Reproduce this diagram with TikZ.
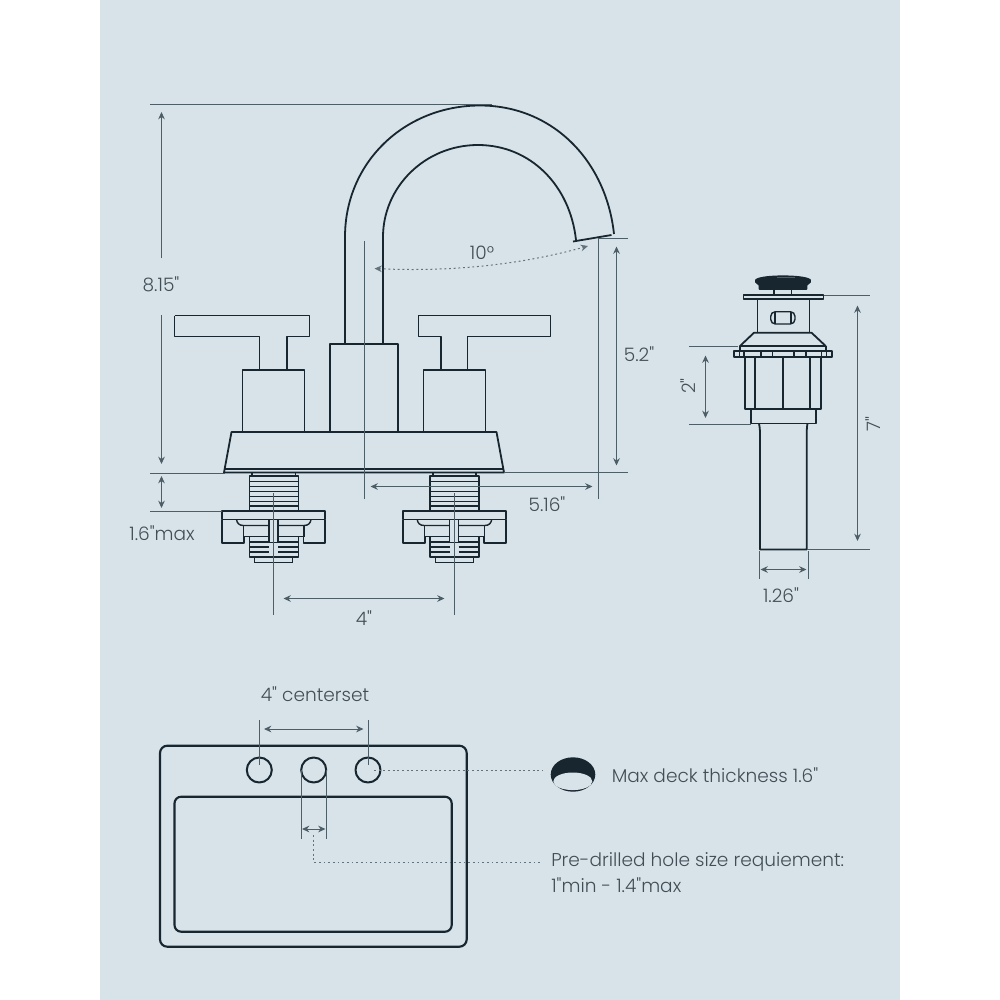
\documentclass[tikz,border=0pt]{standalone}
\usepackage{fontspec}
\setmainfont{Poppins}[UprightFont=* Light,Ligatures=TeXOff]
\usetikzlibrary{arrows.meta}
\definecolor{panelbg}{RGB}{216,227,233}
\definecolor{partink}{RGB}{24,38,47}
\definecolor{dimink}{RGB}{78,94,103}
\definecolor{dotink}{RGB}{100,115,123}
\definecolor{labelink}{RGB}{66,78,86}
\tikzset{
  part/.style={color=partink,line width=1.35pt,line join=round},
  thread/.style={color=partink,line width=1.05pt},
  threadbar/.style={color=partink,line width=1.3pt},
  dimline/.style={color=dimink,line width=0.75pt},
  dimarrow/.style={dimline,{Stealth[length=5.5pt,width=5pt]}-{Stealth[length=5.5pt,width=5pt]}},
  dimtip/.style={dimline,-{Stealth[length=5.5pt,width=5pt]}},
  dotline/.style={color=dotink,line width=0.75pt,dash pattern={on 1.4pt off 2.1pt}},
  dimtext/.style={text=labelink,font=\fontsize{13.9}{16}\selectfont,inner sep=0pt},
}
\begin{document}
\begin{tikzpicture}[x=0.75pt,y=0.75pt,yscale=-1,xscale=1]
\useasboundingbox (0,0) rectangle (1000,1000);
\fill [white] (0,0) rectangle (1000,1000);
\fill [panelbg] (100,0) rectangle (900,1000);

%Spout
\draw [part] (345,344) -- (345,237) .. controls (345,162) and (405,105.5) .. (480,105.5) .. controls (552,105.5) and (606,160) .. (614,234);
\draw [part] (383,344) -- (383,237) .. controls (383,187) and (425,145) .. (478,145) .. controls (530,145) and (570,185) .. (576,240);
\draw [part] (573,241.5) -- (611.5,235);

%Handles and bodies
\draw [part] (174.5,315.5) -- (309.5,315.5) -- (309.5,336.5) -- (287,336.5) -- (287,370);
\draw [part] (174.5,315.5) -- (174.5,336.5) -- (259.5,336.5) -- (259.5,370);
\draw [part] (242.5,432) -- (242.5,370) -- (304.5,370) -- (304.5,432);
\draw [part] (441,370) -- (441,336.5) -- (418.5,336.5) -- (418.5,315.5) -- (550.5,315.5) -- (550.5,336.5) -- (467.5,336.5) -- (467.5,370);
\draw [part] (423.5,432) -- (423.5,370) -- (485.5,370) -- (485.5,432);
\draw [part] (330,432) -- (330,344) -- (398,344) -- (398,432);

%Deck plate
\draw [part] (224,472.5) -- (231.5,432) -- (496.5,432) -- (504,472.5) -- cycle;
\draw [part] (224.5,469) -- (503.5,469);

%Mounts under the deck
\foreach \dx in {0,180.7} {
\begin{scope}[xshift=\dx*0.75pt]
\draw [part] (252,473) -- (252,476) (295.5,473) -- (295.5,476);
\draw [part] (249.5,511) -- (249.5,476) -- (298.5,476) -- (298.5,511);
\foreach \yy in {481.5,486.5,491.5,496.5,501.5,506} {
\draw [threadbar] (249.5,\yy) -- (298.5,\yy);
}
\draw [part] (222,511) rectangle (325,519.5);
\draw [part] (222,519.5) -- (222,543) -- (244,543) -- (244,536.5) -- (249.5,536.5);
\draw [part] (325,519.5) -- (325,543) -- (303.5,543) -- (303.5,536.5) -- (298.5,536.5);
\draw [thread] (236.5,519.5) .. controls (237,523) and (239,525.5) .. (243.5,525.5) -- (269,525.5);
\draw [thread] (311,519.5) .. controls (310.5,523) and (308.5,525.5) .. (304,525.5) -- (278,525.5);
\draw [thread] (243.5,525.5) -- (243.5,536.5) -- (269,536.5);
\draw [thread] (304,525.5) -- (304,536.5) -- (278,536.5);
\draw [thread] (269,519.5) -- (269,542.5) -- (278,542.5) -- (278,519.5);
\draw [part] (249.5,536.5) -- (249.5,557) -- (298.5,557) -- (298.5,536.5);
\foreach \yy in {541.7,546.7,551.7} {
\draw [threadbar] (249.5,\yy) -- (269,\yy) (278,\yy) -- (298.5,\yy);
}
\draw [thread] (254.5,557) -- (254.5,562.7) -- (292.5,562.7) -- (292.5,557);
\end{scope}
}

%Dimension lines of the faucet
\draw [dimline] (150,104.5) -- (492,104.5);
\draw [dimline] (150,473) -- (225,473);
\draw [dimline] (504,472.5) -- (628,472.5);
\draw [dimline] (150,511) -- (222,511);
\draw [dimline] (598,238) -- (628,238);
\draw [dimline] (598,238) -- (598,499);
\draw [dimline] (364.5,241) -- (364.5,499);
\draw [dimline] (273.3,493) -- (273.3,615);
\draw [dimline] (454,493) -- (454,615);
\draw [dimtip] (161.5,258) -- (161.5,112);
\draw [dimtip] (161.5,315) -- (161.5,464);
\draw [dimarrow] (161.5,476) -- (161.5,508);
\draw [dimarrow] (616.5,246.5) -- (616.5,465.5);
\draw [dimarrow] (370.5,486.5) -- (592.5,486.5);
\draw [dimarrow] (283.5,598.5) -- (444.5,598.5);
\draw [dotline,{Stealth[length=5.5pt,width=5pt]}-{Stealth[length=5.5pt,width=5pt]}] (374.5,268.5) .. controls (450,272) and (520,265) .. (588,246);

%Drain: cap and neck
\draw [part,fill=partink] (756,280) .. controls (759,277.5) and (771,276.3) .. (783,276.3) .. controls (795,276.3) and (807,277.5) .. (810,280) -- (810,282) -- (806.5,285) -- (806.5,289) -- (759.5,289) -- (759.5,285) -- (756,282) -- cycle;
\draw [color=dimink,line width=0.8pt] (777,277.5) -- (795,277.5);
\draw [thread] (774,289) -- (774,295) (791.5,289) -- (791.5,295);
\draw [part] (743.5,295) rectangle (823.5,298.7);
\draw [part] (757.5,298.7) -- (757.5,332.7) (809.5,298.7) -- (809.5,332.7);
\draw [thread,rounded corners=3.5pt] (770.7,311.7) rectangle (795,324);
\draw [thread] (775,312) -- (775,323.7) (791,312) -- (791,323.7);

%Drain: shoulder, ring and body
\draw [part] (740,346) -- (754,332.7) -- (811.5,332.7) -- (825.7,346) -- cycle;
\draw [part] (740,346) -- (740,350.7) (825.7,346) -- (825.7,350.7);
\draw [part] (734,350.7) rectangle (831.7,357);
\foreach \xx in {739.3,744,761,772.3,794,806,821.7,826.7} {
\draw [thread] (\xx,350.7) -- (\xx,357);
}
\draw [part] (745,357) rectangle (820.7,408.7);
\foreach \xx in {755.3,783,810.3} {
\draw [part] (\xx,357) -- (\xx,408.7);
}
\draw [part] (750.7,408.7) rectangle (815.7,423.5);
\draw [part] (759,423.5) .. controls (760,428) and (760,432) .. (760,436) -- (760,549.5) -- (806.7,549.5) -- (806.7,436) .. controls (806.7,432) and (806.7,428) .. (807.5,423.5);

%Dimension lines of the drain
\draw [dimline] (823.5,295) -- (870,295);
\draw [dimline] (689,346.5) -- (738,346.5);
\draw [dimline] (689,424.5) -- (750.5,424.5);
\draw [dimline] (807,549.5) -- (870,549.5);
\draw [dimline] (759,551) -- (759,579);
\draw [dimline] (808.3,551) -- (808.3,579);
\draw [dimarrow] (705.5,355.5) -- (705.5,418);
\draw [dimarrow] (857.5,305.5) -- (857.5,541);
\draw [dimarrow] (760.5,569.5) -- (806.5,569.5);

%Basin
\draw [part,line width=1.6pt,rounded corners=5.5pt] (160,745.7) rectangle (466.7,946.7);
\draw [part,line width=1.6pt,rounded corners=5pt] (174.5,796.7) rectangle (451.7,931.7);
\foreach \xx in {259.3,313.7,368} {
\draw [part,line width=1.5pt] (\xx,770) circle [radius=12.5];
}
\draw [dimline] (259.3,720) -- (259.3,765);
\draw [dimline] (368,720) -- (368,765);
\draw [dimarrow] (264,729) -- (363.5,729);
\draw [dimline] (301,770) -- (301,838.7);
\draw [dimline] (326.5,770) -- (326.5,838.7);
\draw [dimarrow] (302,829) -- (325.5,829);
\draw [dotline] (374,770) -- (543,770);
\draw [dotline] (313.7,835) -- (313.7,862.5) -- (541,862.5);

%Deck thickness mark
\fill [partink] (573,774.5) ellipse [x radius=22.3,y radius=17.2];
\fill [panelbg] (572.8,781.3) ellipse [x radius=19.5,y radius=8.8];

% Text Node
\node [dimtext] (tallLabel) at (161,284) {8.15"};
\node [dimtext] (angleLabel) at (482,253) {10°};
\node [dimtext] (spoutLabel) at (639,354) {5.2"};
\node [dimtext] (reachLabel) at (547,504) {5.16"};
\node [dimtext] (deckLabel) at (162,533) {1.6"max};
\node [dimtext] (spreadLabel) at (364,618) {4"};
\node [dimtext,rotate=90] (drainLabel) at (688,386) {2"};
\node [dimtext,rotate=90] (drainLongLabel) at (873,424) {7"};
\node [dimtext] (tubeLabel) at (781,595) {1.26"};
\node [dimtext] (centerLabel) at (315,694) {4" centerset};
\node [dimtext,anchor=west] (thickLabel) at (611.5,775) {Max deck thickness 1.6"};
\node [dimtext,anchor=west] (holeLabel) at (551,862) {Pre-drilled hole size requiement:};
\node [dimtext,anchor=west] (holeRangeLabel) at (551,885) {1"min - 1.4"max};

\end{tikzpicture}
\end{document}
